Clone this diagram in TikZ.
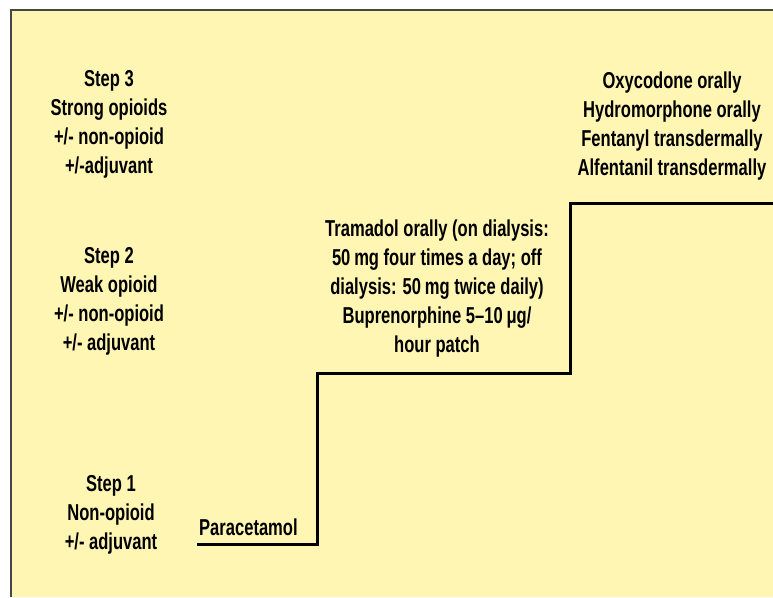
\documentclass[tikz,border=0pt]{standalone}
\usepackage{fontspec}
\setmainfont{Liberation Sans}[FakeStretch=0.72]
\usepackage{xcolor}
\usepackage{tikz}
\usetikzlibrary{positioning}
\definecolor{ladderbg}{RGB}{255,246,180}
\definecolor{ladderedge}{RGB}{70,70,70}

\begin{document}
\begin{tikzpicture}[x=1pt,y=-1pt,
  steptext/.style={align=center,inner sep=0pt,font=\fontsize{23}{29}\selectfont\bfseries}]
  \useasboundingbox (0,0) rectangle (773,597);
  \fill[ladderbg] (11,10) rectangle (773,597);
  \draw[ladderedge,line width=1.5pt] (11,597) -- (11,10) -- (773,10);
  % step labels on the left
  \node[steptext,anchor=north] (s3) at (109,70) {Step 3\\Strong opioids\\+/- non-opioid\\+/-adjuvant};
  \node[steptext,anchor=north] (s2) at (109,247) {Step 2\\Weak opioid\\+/- non-opioid\\+/- adjuvant};
  \node[steptext,anchor=north] (s1) at (111,475) {Step 1\\Non-opioid\\+/- adjuvant};
  % drugs on each stair
  \node[steptext,anchor=base west] (d1) at (199,535) {Paracetamol};
  \node[steptext,anchor=north] (d2) at (437,220) {Tramadol orally (on dialysis:\\50\,mg four times a day; off\\dialysis: 50\,mg twice daily)\\Buprenorphine 5–10\,μg/\\hour patch};
  \node[steptext,anchor=north] (d3) at (672,72) {Oxycodone orally\\Hydromorphone orally\\Fentanyl transdermally\\Alfentanil transdermally};
  % the ladder
  \coordinate (l0) at (197,544);
  \coordinate (l1) at (317,544);
  \coordinate (l2) at (317,373);
  \coordinate (l3) at (570,373);
  \coordinate (l4) at (570,203);
  \coordinate (l5) at (773,203);
  \draw[line width=3pt] (l0) -- (l1) -- (l2) -- (l3) -- (l4) -- (l5);
\end{tikzpicture}
\end{document}
